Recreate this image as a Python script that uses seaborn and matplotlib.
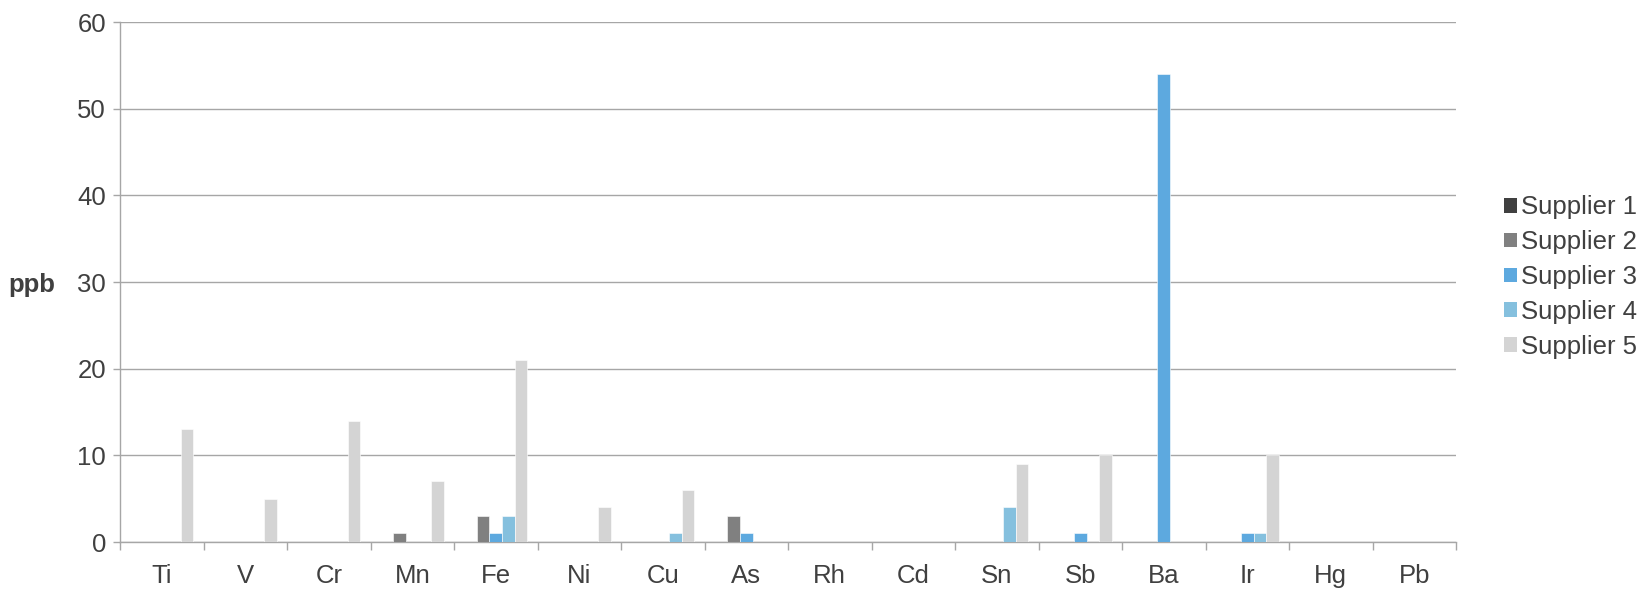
import matplotlib
matplotlib.use("Agg")
import matplotlib.pyplot as plt
from matplotlib.patches import Patch
from matplotlib.ticker import FixedLocator, MultipleLocator
import seaborn as sns
import pandas as pd

elements = ["Ti", "V", "Cr", "Mn", "Fe", "Ni", "Cu", "As", "Rh", "Cd",
            "Sn", "Sb", "Ba", "Ir", "Hg", "Pb"]
suppliers = ["Supplier 1", "Supplier 2", "Supplier 3", "Supplier 4", "Supplier 5"]

supplier_1 = [0, 0, 0, 0, 0, 0, 0, 0, 0, 0, 0, 0, 0, 0, 0, 0]
supplier_2 = [0, 0, 0, 1, 3, 0, 0, 3, 0, 0, 0, 0, 0, 0, 0, 0]
supplier_3 = [0, 0, 0, 0, 1, 0, 0, 1, 0, 0, 0, 1, 54, 1, 0, 0]
supplier_4 = [0, 0, 0, 0, 3, 0, 1, 0, 0, 0, 4, 0, 0, 1, 0, 0]
supplier_5 = [13, 5, 14, 7, 21, 4, 6, 0, 0, 0, 9, 10, 0, 10, 0, 0]

colors = ["#404040", "#808080", "#5DA9DF", "#85C0DE", "#D4D4D4"]

series = [supplier_1, supplier_2, supplier_3, supplier_4, supplier_5]
rows = []
for name, vals in zip(suppliers, series):
    for el, v in zip(elements, vals):
        rows.append({"Element": el, "Supplier": name, "ppb": v})
df = pd.DataFrame(rows)

sns.set_theme(style="white")
plt.rcParams["font.family"] = ["Liberation Sans", "DejaVu Sans"]

FS = 18.5
TXT = "#404040"
GRID = "#A6A6A6"

fig = plt.figure(figsize=(16.42, 5.92), dpi=100)
ax = fig.add_axes([120 / 1642, 1 - 542 / 592, (1456 - 120) / 1642, (542 - 22) / 592])

sns.barplot(data=df, x="Element", y="ppb", hue="Supplier", order=elements,
            hue_order=suppliers, palette=colors, saturation=1, width=0.75, ax=ax,
            edgecolor="white", linewidth=0.4, errorbar=None, legend=False,
            zorder=3)

ax.set_xlim(-0.5, len(elements) - 0.5)
ax.set_ylim(0, 60)
ax.yaxis.set_major_locator(MultipleLocator(10))
ax.grid(axis="y", color=GRID, linewidth=1.0, zorder=0)
ax.set_axisbelow(True)

for side in ["top", "right"]:
    ax.spines[side].set_visible(False)
for side in ["left", "bottom"]:
    ax.spines[side].set_color(GRID)
    ax.spines[side].set_linewidth(1.0)

ax.xaxis.set_minor_locator(FixedLocator([i + 0.5 for i in range(-1, len(elements))]))
ax.tick_params(axis="x", which="major", bottom=True, length=0, pad=16,
               labelsize=FS, labelcolor=TXT)
ax.tick_params(axis="x", which="minor", bottom=True, length=6, width=1,
               color=GRID, direction="out")
ax.tick_params(axis="y", which="major", left=True, length=5, width=1, color=GRID,
               direction="out", labelsize=FS, labelcolor=TXT, pad=5)
ax.set_xlabel("")
ax.set_ylabel("")

fig.text(8 / 1642, 1 - 285 / 592, "ppb", fontsize=FS, fontweight="bold",
         color=TXT, ha="left", va="center")

handles = [Patch(facecolor=c, edgecolor="none", label=s) for c, s in zip(colors, suppliers)]
fig.legend(handles=handles, loc="center left", bbox_to_anchor=(1504 / 1642, 1 - 277 / 592),
           frameon=False, fontsize=FS, labelcolor=TXT, handlelength=0.5,
           handleheight=0.5, handletextpad=0.15, labelspacing=0.42, borderaxespad=0,
           borderpad=0)

fig.savefig("out.png", dpi=100)
